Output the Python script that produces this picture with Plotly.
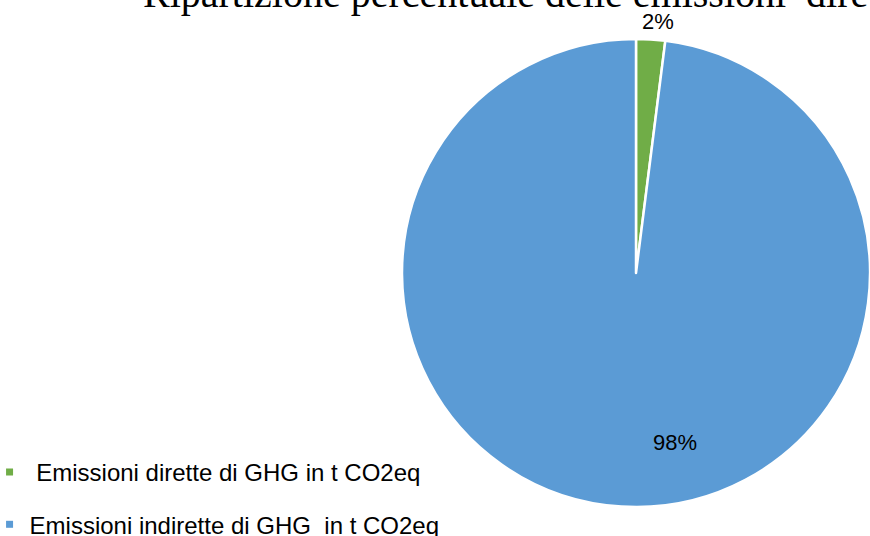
import plotly.graph_objects as go

W, H = 870, 536

title_text = "Ripartizione percentuale delle emissioni  dirette e indirette"
categories = [" Emissioni dirette di GHG in t CO2eq", "Emissioni indirette di GHG  in t CO2eq"]
values = [2, 98]
colors = ["#70AD47", "#5B9BD5"]

total = sum(values)
pct_text = [f"{round(v / total * 100)}%" for v in values]

fig = go.Figure()

fig.add_trace(go.Pie(
    labels=categories,
    values=values,
    sort=False,
    direction="clockwise",
    rotation=0,
    marker=dict(colors=colors, line=dict(color="white", width=2.5)),
    textinfo="none",
    showlegend=False,
    domain=dict(x=[402 / W, 1.0], y=[(H - 510) / H, (H - 36) / H]),
))

# legend entries
for i, (cat, col) in enumerate(zip(categories, colors)):
    fig.add_trace(go.Scatter(
        x=[None], y=[None], mode="markers", name=cat,
        legendgroup=f"g{i}",
        marker=dict(symbol="square", size=7, color=col),
    ))

# percentage labels
label_pos = [(658, 22), (675, 442)]
for t, (px, py) in zip(pct_text, label_pos):
    fig.add_annotation(
        x=px / W, y=1 - py / H, xref="paper", yref="paper",
        text=t, showarrow=False, xanchor="center", yanchor="middle",
        font=dict(family="Liberation Sans, Arial", size=22, color="#000000"),
    )

# title (partly cut off at the top, as in the reference)
fig.add_annotation(
    x=141 / W, y=1 - 18 / H, xref="paper", yref="paper",
    text=title_text, showarrow=False, xanchor="left", yanchor="bottom",
    font=dict(family="Liberation Serif, Times New Roman", size=40, color="#000000"),
)

fig.update_layout(
    width=W, height=H,
    margin=dict(l=0, r=0, t=0, b=0, autoexpand=False),
    paper_bgcolor="white", plot_bgcolor="white",
    xaxis=dict(visible=False), yaxis=dict(visible=False),
    showlegend=True,
    legend=dict(
        x=-0.012, y=1 - 450 / H, xanchor="left", yanchor="top",
        font=dict(family="Liberation Sans, Arial", size=24, color="#000000"),
        tracegroupgap=18, traceorder="grouped",
        bgcolor="rgba(0,0,0,0)",
    ),
)

fig.write_html(
    "out.html",
    config={"displayModeBar": False},
    post_script="document.body.style.margin='0';document.body.style.overflow='hidden';",
)
